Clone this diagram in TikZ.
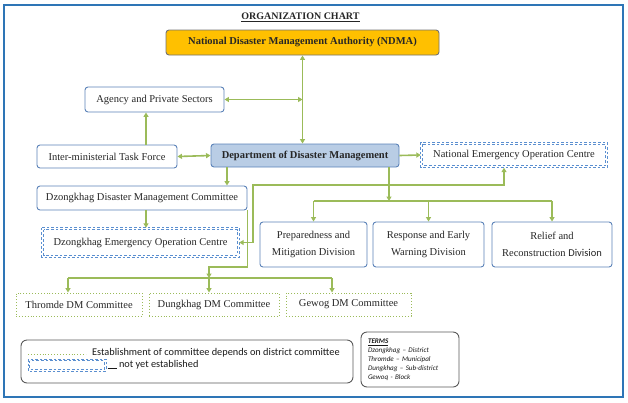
\documentclass[tikz,border=0pt]{standalone}
\usepackage{fontspec}
\setmainfont{Liberation Serif}
\setsansfont{Carlito}
\usepackage{xcolor}
\usetikzlibrary{arrows.meta,positioning,calc}
\definecolor{linkgreen}{HTML}{9BBB59}
\definecolor{boxblue}{HTML}{5B82B8}
\definecolor{ddmfill}{HTML}{B9CDE5}
\definecolor{ndmagold}{HTML}{FFC000}
\definecolor{frameblue}{HTML}{2E75B6}
\definecolor{legendgray}{HTML}{595959}
\definecolor{dashblue}{HTML}{5B8FD0}

\begin{document}
\begin{tikzpicture}[x=1pt,y=-1pt,
  orgbox/.style={draw=boxblue,line width=0.9pt,rounded corners=3pt,fill=white,
    inner sep=0pt,text=black!85,font=\fontsize{10.5}{17.5}\selectfont,align=center},
  eocbox/.style={inner sep=0pt,text=black!85,font=\fontsize{10.5}{12}\selectfont},
  eocline/.style={draw=dashblue,line width=0.8pt,dash pattern=on 2.6pt off 2pt},
  cmtbox/.style={draw=linkgreen,line width=0.9pt,dotted,inner sep=0pt,text=black!85,
    font=\fontsize{10.5}{12}\selectfont},
  link/.style={draw=linkgreen,line width=1.6pt},
  tip/.style={-{Triangle[length=4.5pt,width=5pt]}},
  bitip/.style={{Triangle[length=4.5pt,width=5pt]}-{Triangle[length=4.5pt,width=5pt]}},
  keybox/.style={draw=legendgray,line width=0.9pt,rounded corners=6pt,inner sep=0pt},
  keytext/.style={inner sep=0pt,text=black!90,font=\sffamily\fontsize{10.3}{12}\selectfont}]
  \useasboundingbox (0,0) rectangle (628,402);
  \draw[frameblue,line width=2pt] (4,5) rectangle (623,397);

  % title and top level
  \node[font=\bfseries\fontsize{10}{12}\selectfont,text=black!85] (title) at (300.5,17) {\underline{ORGANIZATION CHART}};
  \node[orgbox,draw=black!55,fill=ndmagold,font=\bfseries\fontsize{10.5}{12}\selectfont,
    minimum width=273pt,minimum height=25pt] (ndma) at (302.5,42.5) {National Disaster Management Authority (NDMA)};
  \node[orgbox,minimum width=139pt,minimum height=25pt] (agency) at (154.5,99.5) {Agency and Private Sectors};
  \node[orgbox,minimum width=140pt,minimum height=23pt] (itf) at (107,156.5) {Inter-ministerial Task Force};
  \node[orgbox,fill=ddmfill,font=\bfseries\fontsize{10.5}{12}\selectfont,
    minimum width=188pt,minimum height=23pt] (ddm) at (305,155.5) {Department of Disaster Management};
  \node[eocbox,minimum width=186pt,minimum height=25pt] (neoc) at (514,155) {National Emergency Operation Centre};
  \node[orgbox,minimum width=210pt,minimum height=24pt] (ddmc) at (142,198) {Dzongkhag Disaster Management Committee};
  \node[eocbox,minimum width=197pt,minimum height=29pt] (deoc) at (140.5,242.5) {Dzongkhag Emergency Operation Centre};
  % double dashed outline of the centres not yet established
  \foreach \e in {neoc,deoc}{
    \draw[eocline] (\e.north west) rectangle (\e.south east);
    \draw[eocline] ([shift={(2pt,-2pt)}]\e.north west) rectangle ([shift={(-2pt,2pt)}]\e.south east);
  }

  % divisions
  \node[orgbox,minimum width=107pt,minimum height=45pt] (prep) at (313.5,244.5) {Preparedness and\\Mitigation Division};
  \node[orgbox,minimum width=111pt,minimum height=45pt] (resp) at (428.5,244.5) {Response and Early\\Warning Division};
  \node[orgbox,minimum width=120pt,minimum height=45pt] (relief) at (552,244.5) {Relief and\\Reconstruction {\sffamily Division}};

  % committees below district level
  \node[cmtbox,minimum width=126pt,minimum height=23pt] (thromde) at (79,304.5) {Thromde DM Committee};
  \node[cmtbox,minimum width=130pt,minimum height=23pt] (dungkhag) at (214,304.5) {Dungkhag DM Committee};
  \node[cmtbox,minimum width=125pt,minimum height=23pt] (gewog) at (348.5,304.5) {Gewog DM Committee};

  % connectors
  \draw[link,bitip] (ndma.south) -- (ndma.south |- ddm.north);
  \draw[link,bitip] (agency.east) -- (agency.east -| ndma.south);
  \draw[link,tip] ([xshift=-8.5pt]agency.south |- itf.north) -- ([xshift=-8.5pt]agency.south);
  \draw[link,bitip] (itf.east) -- (ddm.west);
  \draw[link,tip] (ddm.east) -- (neoc.west);
  \draw[link,tip] ([xshift=-78pt]ddm.south) -- ([xshift=-78pt]ddm.south |- ddmc.north);
  \draw[link,tip] ([xshift=4pt]ddmc.south) -- ([xshift=4pt]ddmc.south |- deoc.north);
  \coordinate (eocbend) at (253,185);
  \draw[link,bitip] ([xshift=-10pt]neoc.south) |- (eocbend) |- (deoc.east);
  \coordinate (divbus) at (389,201);
  \draw[link,tip] (ddm.south -| divbus) -- (divbus);
  \draw[link] (prep.north |- divbus) -- (relief.north |- divbus);
  \foreach \d in {prep,resp,relief}{
    \draw[link,tip] (\d.north |- divbus) -- (\d.north);
  }
  \coordinate (cmtbus) at (209,278);
  \draw[link,tip] (ddmc.south east) |- (209,267) -- (cmtbus);
  \draw[link] ([xshift=-11pt]thromde.north |- cmtbus) -- ([xshift=-16.5pt]gewog.north |- cmtbus);
  \foreach \c/\dx in {thromde/-11,dungkhag/-5,gewog/-16.5}{
    \draw[link,tip] ([xshift=\dx pt]\c.north |- cmtbus) -- ([xshift=\dx pt]\c.north);
  }

  % legend
  \node[keybox,minimum width=332pt,minimum height=43pt] (legend) at (187,361.5) {};
  \draw[linkgreen,line width=0.9pt,dotted] (28,354) -- (86,354);
  \node[keytext,anchor=west] (dottext) at (92,353) {Establishment of committee depends on district committee};
  \draw[eocline,line width=0.7pt] (28,359) rectangle (106,371);
  \draw[eocline,line width=0.7pt] (29.8,360.8) rectangle (104.2,369.2);
  \node[keytext,anchor=west] (dashtext) at (107.5,365) {\rule[-1pt]{9pt}{0.6pt} not yet established};
  \node[keybox,minimum width=98pt,minimum height=55pt,text width=84pt,align=left,
    font=\sffamily\itshape\fontsize{7.1}{8.9}\selectfont,text=black!90] (terms) at (410,359.5)
    {\textbf{\underline{TERMS}}\\Dzongkhag -- District\\Thromde -- Municipal\\Dungkhag -- Sub-district\\Gewoq - Block};
\end{tikzpicture}
\end{document}
